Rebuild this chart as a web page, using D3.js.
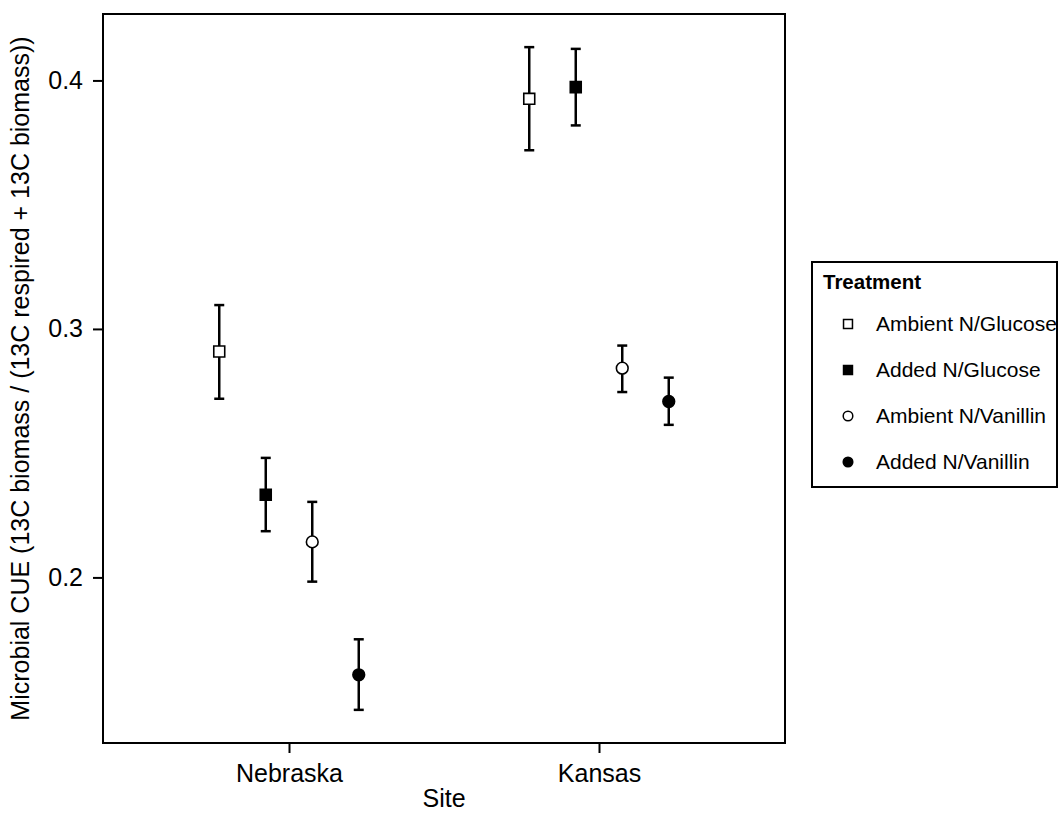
<!DOCTYPE html>
<html>
<head>
<meta charset="UTF-8">
<title>Microbial CUE</title>
<script src="https://cdnjs.cloudflare.com/ajax/libs/d3/7.8.5/d3.min.js"></script>
<style>
  body { margin: 0; background: #fff; }
  text { font-family: "Liberation Sans", Arial, Helvetica, sans-serif; fill: #000; }
</style>
</head>
<body>
<svg id="chart" width="1059" height="813"></svg>
<script>
// data
const sites = ['Nebraska', 'Kansas'];
const treatments = ['Ambient N/Glucose', 'Added N/Glucose', 'Ambient N/Vanillin', 'Added N/Vanillin'];
// mean / lower / upper per treatment, one set per site
const meanNebraska = [0.2909, 0.2333, 0.2143, 0.1608];
const lowNebraska  = [0.2719, 0.2186, 0.1983, 0.1467];
const highNebraska = [0.3096, 0.2481, 0.2304, 0.1751];
const meanKansas = [0.3926, 0.3973, 0.2842, 0.2708];
const lowKansas  = [0.3719, 0.3819, 0.2746, 0.2614];
const highKansas = [0.4134, 0.4127, 0.2933, 0.2804];
const yTicks = [0.2, 0.3, 0.4];

const rows = [];
[[meanNebraska, lowNebraska, highNebraska], [meanKansas, lowKansas, highKansas]].forEach(function (s, si) {
  treatments.forEach(function (t, ti) {
    rows.push({ site: sites[si], treatment: t, mean: s[0][ti], low: s[1][ti], high: s[2][ti] });
  });
});

const svg = d3.select('#chart');
const panel = { left: 103, top: 14, right: 785, bottom: 743 };
const axisFont = '25px';

// discrete x like ggplot: 0.6 expansion each side
const x = d3.scaleLinear().domain([0.4, 2.6]).range([panel.left, panel.right]);
const site = d3.scaleOrdinal().domain(sites).range([1, 2]);
const dodge = d3.scaleBand().domain(treatments).range([-0.3, 0.3]);

const allVals = rows.map(d => d.low).concat(rows.map(d => d.high));
const ext = d3.extent(allVals);
const pad = (ext[1] - ext[0]) * 0.05;
const y = d3.scaleLinear().domain([ext[0] - pad, ext[1] + pad]).range([panel.bottom, panel.top]);

function px(d) { return x(site(d.site) + dodge(d.treatment) + dodge.bandwidth() / 2); }

// axes
const yAxis = d3.axisLeft(y).tickValues(yTicks).tickSize(10).tickPadding(10).tickFormat(d3.format('.1f'));
const gy = svg.append('g').attr('transform', 'translate(' + panel.left + ',0)').call(yAxis);
gy.select('.domain').remove();
gy.selectAll('line').attr('stroke', '#000').attr('stroke-width', 2);
gy.selectAll('text').style('font-size', axisFont);

const xAxis = d3.axisBottom(x).tickValues([1, 2]).tickSize(10).tickPadding(11).tickFormat(function (d) { return sites[d - 1]; });
const gx = svg.append('g').attr('transform', 'translate(0,' + panel.bottom + ')').call(xAxis);
gx.select('.domain').remove();
gx.selectAll('line').attr('stroke', '#000').attr('stroke-width', 2);
gx.selectAll('text').style('font-size', axisFont);

// panel border
svg.append('rect')
  .attr('x', panel.left).attr('y', panel.top)
  .attr('width', panel.right - panel.left).attr('height', panel.bottom - panel.top)
  .attr('fill', 'none').attr('stroke', '#000').attr('stroke-width', 2);

// axis titles
svg.append('text')
  .attr('x', (panel.left + panel.right) / 2).attr('y', 807)
  .attr('text-anchor', 'middle').style('font-size', axisFont)
  .text('Site');
svg.append('text')
  .attr('transform', 'translate(29,' + (panel.top + panel.bottom) / 2 + ') rotate(-90)')
  .attr('text-anchor', 'middle').style('font-size', axisFont)
  .text('Microbial CUE (13C biomass / (13C respired + 13C biomass))');

// error bars
const cap = 5;
const eb = svg.append('g').selectAll('g').data(rows).enter().append('g')
  .attr('stroke', '#000').attr('stroke-width', 2.5);
eb.append('line')
  .attr('x1', px).attr('x2', px)
  .attr('y1', d => y(d.low)).attr('y2', d => y(d.high));
eb.append('line')
  .attr('x1', d => px(d) - cap).attr('x2', d => px(d) + cap)
  .attr('y1', d => y(d.low)).attr('y2', d => y(d.low));
eb.append('line')
  .attr('x1', d => px(d) - cap).attr('x2', d => px(d) + cap)
  .attr('y1', d => y(d.high)).attr('y2', d => y(d.high));

// point shapes
const shapes = {
  'Ambient N/Glucose': { type: d3.symbolSquare, fill: '#fff' },
  'Added N/Glucose': { type: d3.symbolSquare, fill: '#000' },
  'Ambient N/Vanillin': { type: d3.symbolCircle, fill: '#fff' },
  'Added N/Vanillin': { type: d3.symbolCircle, fill: '#000' }
};
function sym(t, size) {
  return d3.symbol().type(shapes[t].type).size(shapes[t].type === d3.symbolSquare ? size : size * 0.9)();
}

svg.append('g').selectAll('path').data(rows).enter().append('path')
  .attr('transform', d => 'translate(' + px(d) + ',' + y(d.mean) + ')')
  .attr('d', d => sym(d.treatment, 120))
  .attr('fill', d => shapes[d.treatment].fill)
  .attr('stroke', '#000').attr('stroke-width', 1.6);

// legend
const legend = svg.append('g');
legend.append('rect')
  .attr('x', 812).attr('y', 262).attr('width', 245).attr('height', 225)
  .attr('fill', '#fff').attr('stroke', '#000').attr('stroke-width', 2);
legend.append('text')
  .attr('x', 823).attr('y', 289)
  .style('font-size', '20.5px').style('font-weight', 'bold')
  .text('Treatment');
const legendY = d3.scalePoint().domain(treatments).range([324, 462]);
const li = legend.selectAll('g.item').data(treatments).enter().append('g')
  .attr('class', 'item')
  .attr('transform', d => 'translate(848,' + legendY(d) + ')');
li.append('path')
  .attr('d', d => sym(d, 80))
  .attr('fill', d => shapes[d].fill)
  .attr('stroke', '#000').attr('stroke-width', 1.5);
li.append('text')
  .attr('x', 28).attr('dy', '0.35em')
  .style('font-size', '21px')
  .text(d => d);
</script>
</body>
</html>
